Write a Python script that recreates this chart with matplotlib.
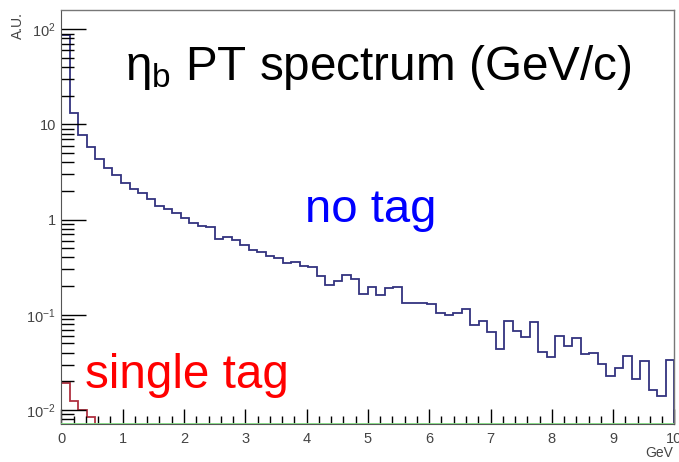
import numpy as np
import matplotlib
matplotlib.use("Agg")
import matplotlib.pyplot as plt
from matplotlib.ticker import LogLocator, FixedLocator, NullFormatter, FixedFormatter

plt.rcParams['font.family'] = ['Liberation Sans', 'DejaVu Sans']
plt.rcParams['mathtext.fontset'] = 'custom'
plt.rcParams['mathtext.rm'] = 'Liberation Sans'
plt.rcParams['mathtext.it'] = 'Liberation Sans'
plt.rcParams['mathtext.default'] = 'regular'

# ---- data (72 bins from 0 to 10 GeV) ----
x_min, x_max, n_bins = 0.0, 10.0, 72
no_tag = [87, 13.1, 7.74, 5.8, 4.30, 3.48, 2.91, 2.41, 2.08, 1.92,
          1.63, 1.39, 1.28, 1.18, 1.05, 0.927, 0.857, 0.83, 0.621, 0.661,
          0.611, 0.541, 0.479, 0.460, 0.415, 0.398, 0.348, 0.361, 0.326, 0.316,
          0.256, 0.206, 0.225, 0.262, 0.238, 0.164, 0.197, 0.161, 0.193, 0.197,
          0.132, 0.134, 0.134, 0.130, 0.104, 0.0995, 0.104, 0.115, 0.0781, 0.0867,
          0.0665, 0.0434, 0.0867, 0.0676, 0.0580, 0.0847, 0.0409, 0.0363, 0.0599, 0.0470,
          0.0566, 0.0387, 0.0400, 0.0304, 0.0229, 0.0278, 0.0372, 0.0212, 0.0327, 0.0162,
          0.0140, 0.0335]
single_tag = [0.0194, 0.0125, 0.0101, 0.0084]   # remaining bins are empty
y_lo, y_hi = 0.00713, 159.0
x_ticks = [0, 1, 2, 3, 4, 5, 6, 7, 8, 9, 10]
x_ticklabels = ['0', '1', '2', '3', '4', '5', '6', '7', '8', '9', '10']
y_ticks = [0.01, 0.1, 1, 10, 100]
y_ticklabels = [r'$10^{-2}$', r'$10^{-1}$', '1', '10', r'$10^{2}$']

edges = np.linspace(x_min, x_max, n_bins + 1)

fig = plt.figure(figsize=(6.79, 4.62), dpi=100)
ax = fig.add_axes([61.4/679, 1 - 424/462, 613/679, 414/462])
ax.set_yscale('log')
ax.set_xlim(x_min, x_max)
ax.set_ylim(y_lo, y_hi)

ax.stairs(no_tag, edges, baseline=y_lo, color='#33337f', lw=1.3)
ax.stairs(single_tag, edges[:len(single_tag) + 1], baseline=y_lo, color='#b03040', lw=1.3)
ax.axhline(y_lo, color='#7fd87f', lw=2.0, zorder=5)

for s in ['top', 'right']:
    ax.spines[s].set_color('#777777')
    ax.spines[s].set_linewidth(1.0)
ax.spines['left'].set_color('#555555')
ax.spines['bottom'].set_color('#555555')

ax.xaxis.set_major_locator(FixedLocator(x_ticks))
ax.xaxis.set_major_formatter(FixedFormatter(x_ticklabels))
ax.xaxis.set_minor_locator(FixedLocator(np.arange(0, 10.01, 0.2)))
ax.yaxis.set_major_locator(FixedLocator(y_ticks))
ax.yaxis.set_major_formatter(FixedFormatter(y_ticklabels))
ax.yaxis.set_minor_locator(LogLocator(base=10, subs=np.arange(2, 10)))
ax.yaxis.set_minor_formatter(NullFormatter())

ax.tick_params(axis='x', which='major', direction='in', length=11, width=1.0,
               color='black', labelsize=10.5, labelcolor='#444444', pad=6, top=False)
ax.tick_params(axis='x', which='minor', direction='in', length=6, width=1.0,
               color='black', top=False)
ax.tick_params(axis='y', which='major', direction='in', length=18, width=1.0,
               color='black', labelsize=10.5, labelcolor='#444444', pad=4, right=False)
ax.tick_params(axis='y', which='minor', direction='in', length=9, width=1.0,
               color='black', right=False)

fig.text(673/679, 2/462, 'GeV', ha='right', va='bottom',
         fontsize=10, color='#444444')
fig.text(18/679, 1 - 12/462, 'A.U.', rotation=90, ha='center', va='top',
         fontsize=10, color='#444444')

ax.text(0.1037, 0.831, r'$\eta_{b}$ PT spectrum (GeV/c)', transform=ax.transAxes,
        ha='left', va='baseline', fontsize=34.3, color='black')
ax.text(0.397, 0.488, 'no tag', transform=ax.transAxes, ha='left', va='baseline',
        fontsize=34, color='#0000ff')
ax.text(0.0385, 0.087, 'single tag', transform=ax.transAxes, ha='left', va='baseline',
        fontsize=34.3, color='#ff0000')

fig.savefig('out.png', dpi=100)
